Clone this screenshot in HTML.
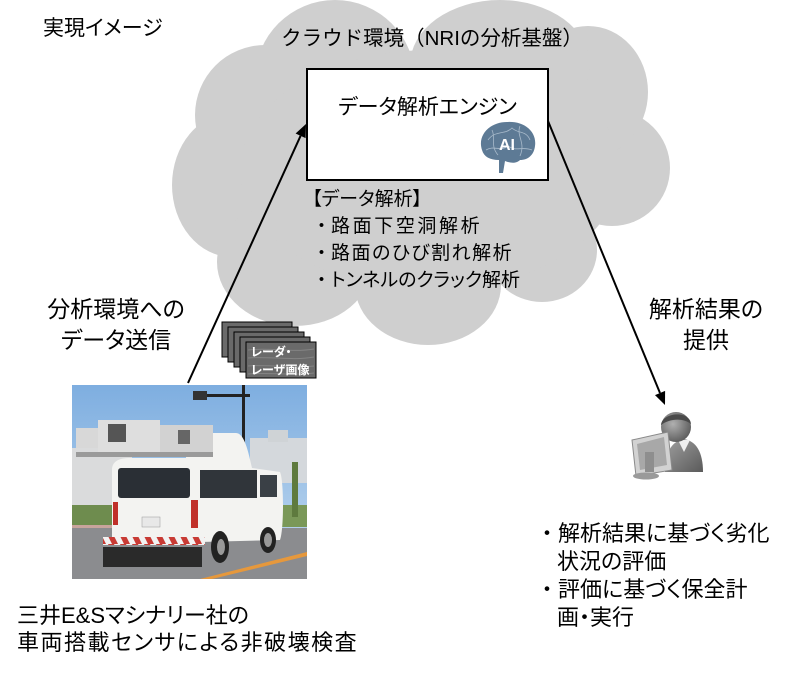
<!DOCTYPE html>
<html><head><meta charset="utf-8">
<style>
html,body{margin:0;padding:0;background:#fff;}
body{width:808px;height:674px;position:relative;overflow:hidden;font-family:"Liberation Sans","Noto Sans CJK JP",sans-serif;color:#000;font-feature-settings:"palt";}
.t{position:absolute;white-space:nowrap;}
.c{text-align:center;}
.np{font-feature-settings:normal;}
svg{position:absolute;left:0;top:0;}
</style></head><body>
<svg width="808" height="674" viewBox="0 0 808 674">
<defs>
<linearGradient id="sky" x1="0" y1="0" x2="0" y2="1"><stop offset="0" stop-color="#7eaee0"/><stop offset="1" stop-color="#c4dbf0"/></linearGradient>
<radialGradient id="head" cx="0.4" cy="0.4" r="0.7"><stop offset="0" stop-color="#b0b0b0"/><stop offset="1" stop-color="#555"/></radialGradient>
<linearGradient id="body" x1="0" y1="0" x2="1" y2="1"><stop offset="0" stop-color="#a0a0a0"/><stop offset="1" stop-color="#5a5a5a"/></linearGradient>
<pattern id="stripe" width="12" height="8" patternUnits="userSpaceOnUse"><rect width="12" height="8" fill="#f2f2f2"/><polygon points="0,0 6,0 10,8 4,8" fill="#c83a34"/></pattern>
</defs>
<g fill="#cfcfcf">
<ellipse cx="335" cy="80" rx="80" ry="80"/>
<ellipse cx="265" cy="115" rx="70" ry="70"/>
<ellipse cx="232" cy="185" rx="60" ry="72"/>
<ellipse cx="295" cy="262" rx="78" ry="64"/>
<ellipse cx="428" cy="285" rx="73" ry="60"/>
<ellipse cx="542" cy="250" rx="55" ry="52"/>
<ellipse cx="612" cy="168" rx="58" ry="58"/>
<ellipse cx="588" cy="92" rx="60" ry="66"/>
<ellipse cx="500" cy="65" rx="90" ry="65"/>
<ellipse cx="430" cy="170" rx="190" ry="120"/>
</g>
<rect x="307" y="69" width="241" height="111" fill="#fff" stroke="#000" stroke-width="2"/>
<path d="M482,150 C477,135 490,122 507,122 C525,121 537,132 535,146 C534,155 528,160 520,160 C516,164 510,163 505,161 L503,173 L499,173 L499,160 C490,160 484,157 482,150 Z" fill="#5d7a95"/>
<g stroke="#c9d6e2" stroke-width="0.8" fill="none" opacity="0.7">
<path d="M488,140 C495,130 505,135 512,128 C518,134 526,130 530,140"/>
<path d="M486,150 C494,145 500,152 508,146 C516,152 522,146 532,150"/>
<path d="M492,130 C496,138 490,146 498,155"/>
<path d="M520,126 C516,136 526,142 520,156"/>
</g>
<line x1="188" y1="383" x2="300.6" y2="135.8" stroke="#000" stroke-width="2"/>
<polygon points="306,124 305.6,138.1 295.6,133.5" fill="#000"/>
<line x1="548" y1="121" x2="660" y2="393" stroke="#000" stroke-width="2"/>
<polygon points="665,405 655,395.1 665.1,390.9" fill="#000"/>
<g stroke="#000" stroke-width="1" fill="#6a6a6a">
<rect x="222" y="322" width="70" height="35"/>
<rect x="228" y="327" width="70" height="35"/>
<rect x="234" y="332" width="70" height="35"/>
<rect x="240" y="337" width="70" height="35"/>
<rect x="246" y="342" width="70" height="36"/>
</g>
<g stroke="#8a8a8a" stroke-width="1" fill="none" opacity="0.8">
<path d="M248,350 C270,347 290,353 314,349"/>
<path d="M248,358 C270,356 292,361 314,357"/>
<path d="M248,366 C272,364 290,369 314,366"/>
<path d="M248,374 C270,372 292,376 314,373"/>
</g>
<rect x="72" y="385" width="235" height="194" fill="url(#sky)"/>
<rect x="250" y="438" width="57" height="45" fill="#d4d8dc"/>
<rect x="268" y="430" width="20" height="12" fill="#cfd3d6"/>
<rect x="72" y="448" width="60" height="62" fill="#dadbdc"/>
<rect x="72" y="505" width="45" height="22" fill="#6e8c4e"/>
<rect x="280" y="505" width="27" height="22" fill="#7a9858"/>
<rect x="292" y="462" width="6" height="55" fill="#5e7a3e"/>
<rect x="72" y="525" width="50" height="8" fill="#c8a49c"/>
<rect x="72" y="528" width="235" height="51" fill="#8b8c8f"/>
<polygon points="200,579 307,552 307,556 212,579" fill="#e6983c"/>
<rect x="242" y="385" width="3" height="75" fill="#222"/>
<rect x="193" y="394" width="57" height="3" fill="#222"/>
<rect x="193" y="391" width="14" height="9" fill="#333"/>
<path d="M186,445 C186,436 192,433 200,433 L236,433 C244,433 248,450 252,468 L280,472 C284,480 284,530 280,540 L200,542 L112,545 L112,470 C112,462 118,458 130,458 L186,458 Z" fill="#f3f3f1"/>
<rect x="76" y="428" width="30" height="20" fill="#d8d8d8"/>
<rect x="98" y="420" width="62" height="36" fill="#dedede"/>
<rect x="108" y="424" width="18" height="18" fill="#555"/>
<rect x="160" y="425" width="53" height="30" fill="#d2d2d2"/>
<rect x="178" y="430" width="12" height="14" fill="#666"/>
<rect x="76" y="452" width="137" height="5" fill="#9a9a9a"/>
<rect x="118" y="468" width="72" height="30" rx="3" fill="#2a2f35"/>
<rect x="200" y="470" width="57" height="28" fill="#30353a"/>
<rect x="260" y="475" width="17" height="22" fill="#3a4046"/>
<rect x="113" y="502" width="5" height="23" fill="#c0302a"/>
<rect x="191" y="500" width="7" height="28" fill="#c0302a"/>
<rect x="142" y="517" width="18" height="10" fill="#e8e8e8" stroke="#999" stroke-width="0.5"/>
<rect x="103" y="537" width="102" height="8" fill="url(#stripe)"/>
<rect x="103" y="547" width="99" height="20" fill="#2a2a2a"/>
<ellipse cx="220" cy="547" rx="9" ry="16" fill="#222"/>
<ellipse cx="221" cy="547" rx="4" ry="8" fill="#999"/>
<ellipse cx="268" cy="540" rx="8" ry="13" fill="#222"/>
<ellipse cx="268" cy="540" rx="4" ry="7" fill="#999"/>
<path d="M665,472 C665,452 672,441 684,439 C696,441 703,452 703,472 Z" fill="url(#body)"/>
<polygon points="678,440 684,452 690,440" fill="#eee"/>
<circle cx="676" cy="427" r="15" fill="url(#head)"/>
<path d="M661,425 C662,412 690,410 691,424 C684,418 670,418 661,425 Z" fill="#4a4a4a"/>
<polygon points="632,440 668,432 672,470 636,476" fill="#d2d2d2" stroke="#8a8a8a" stroke-width="1"/>
<polygon points="637,444 664,437 667,465 640,470" fill="#a8a8a8"/>
<rect x="645" y="452" width="9" height="20" fill="#8e8e8e"/>
<ellipse cx="646" cy="476" rx="13" ry="3.5" fill="#9a9a9a"/>
</svg>

<div class="t" style="left:43px;top:17px;font-size:21px;line-height:24px;">実現イメージ</div>
<div class="t c np" style="left:232px;width:400px;top:27px;font-size:20.5px;line-height:24px;">クラウド環境（NRIの分析基盤）</div>
<div class="t c" style="left:307px;width:241px;top:96px;font-size:21px;line-height:24px;">データ解析エンジン</div>
<div class="t" style="left:499px;top:136px;font-size:16px;line-height:20px;color:#fff;font-weight:bold;">AI</div>
<div class="t" style="left:312px;top:186px;font-size:19px;line-height:27px;">【データ解析】<br><span class="np">・</span><span style="letter-spacing:2.6px">路面下空洞解析</span><br><span class="np">・</span><span style="letter-spacing:1.5px">路面のひび割れ解析</span><br><span class="np">・</span>トンネルのクラック解析</div>
<div class="t" style="left:251px;top:343px;font-size:12px;line-height:18px;color:#fff;font-weight:bold;">レーダ・<br>レーザ画像</div>
<div class="t c" style="left:16px;width:200px;top:294px;font-size:23px;line-height:31px;">分析環境への<br>データ送信</div>
<div class="t c" style="left:606px;width:200px;top:294px;font-size:23px;line-height:31px;">解析結果の<br>提供</div>
<div class="t" style="left:17px;top:602px;font-size:22px;line-height:27px;">三井E&amp;Sマシナリー社の<br><span style="letter-spacing:1.5px">車両搭載センサによる非破壊検査</span></div>
<div class="t" style="left:536px;top:520px;font-size:22px;line-height:28px;"><span class="np">・</span>解析結果に基づく劣化<br><span style="padding-left:21px">状況の評価</span><br><span class="np">・</span>評価に基づく保全計<br><span style="padding-left:21px">画・実行</span></div>
</body></html>
